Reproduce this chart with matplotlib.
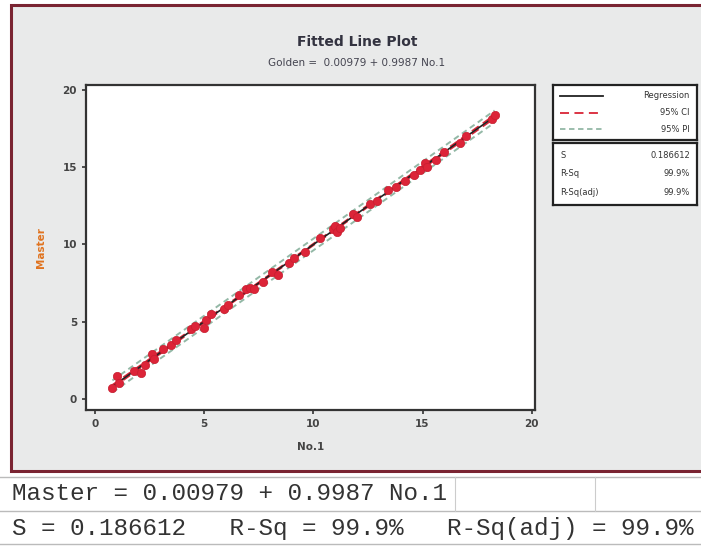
import numpy as np
import matplotlib.pyplot as plt
from matplotlib.patches import Rectangle
from matplotlib.lines import Line2D

# Fitted line plot
no1 = [0.8, 1.0, 1.1, 1.8, 2.1, 2.3, 2.6, 2.7, 3.1, 3.5, 3.7, 4.4, 4.6, 5.0, 5.1,
       5.3, 5.9, 6.1, 6.6, 6.9, 7.1, 7.3, 7.7, 8.1, 8.4, 8.9, 9.1, 9.6, 10.3, 10.9,
       11.0, 11.1, 11.2, 11.8, 12.0, 12.6, 12.9, 13.4, 13.8, 14.2, 14.6, 14.9, 15.1,
       15.2, 15.6, 16.0, 16.7, 17.0, 18.2, 18.3]
master = [0.7, 1.5, 1.0, 1.8, 1.7, 2.2, 2.9, 2.6, 3.2, 3.5, 3.8, 4.5, 4.7, 4.6, 5.1,
          5.5, 5.8, 6.1, 6.7, 7.1, 7.2, 7.1, 7.6, 8.2, 8.0, 8.8, 9.1, 9.5, 10.4, 11.0,
          11.2, 10.8, 11.1, 12.0, 11.8, 12.6, 12.8, 13.5, 13.7, 14.1, 14.5, 14.8, 15.3,
          15.0, 15.5, 16.0, 16.6, 17.0, 18.1, 18.4]

intercept = 0.00979
slope = 0.9987
s_val = 0.186612
rsq = '99.9%'
rsq_adj = '99.9%'

x_ticks = [0, 5, 10, 15, 20]
y_ticks = [0, 5, 10, 15, 20]

x = np.array(no1)
y = np.array(master)
n = len(x)

# bands for the fitted line
xs = np.linspace(x.min(), x.max(), 100)
fit = intercept + slope * xs
sxx = ((x - x.mean()) ** 2).sum()
t = 2.01
ci = t * s_val * np.sqrt(1 / n + (xs - x.mean()) ** 2 / sxx)
pi = t * s_val * np.sqrt(1 + 1 / n + (xs - x.mean()) ** 2 / sxx)

fig = plt.figure(figsize=(7.01, 5.46), dpi=100)
fig.patch.set_facecolor('white')

W, H = 701, 546

def fx(px):
    return px / W

def fy(py):
    return 1 - py / H

# grey panel with the dark red frame
bg = fig.add_axes([0, 0, 1, 1], zorder=-10)
bg.set_xlim(0, W)
bg.set_ylim(H, 0)
bg.axis('off')
bg.add_patch(Rectangle((11, 5), 720, 466, facecolor='#e9eaea',
                       edgecolor='#7a2432', linewidth=2.2))

ax = fig.add_axes([fx(86), fy(410), fx(535) - fx(86), fy(85) - fy(410)])
ax.set_facecolor('white')
ax.plot(xs, fit + pi, color='#93b8a6', lw=1.4, ls=(0, (3, 2)))
ax.plot(xs, fit - pi, color='#93b8a6', lw=1.4, ls=(0, (3, 2)))
ax.plot(xs, fit + ci, color='#d92436', lw=1.2, ls=(0, (5, 3)))
ax.plot(xs, fit - ci, color='#d92436', lw=1.2, ls=(0, (5, 3)))
ax.plot(xs, fit, color='#222222', lw=1.2)
ax.scatter(x, y, s=36, color='#dc2438', edgecolors='#c81e30', linewidths=0.5, zorder=5)

ax.set_xlim(-0.41, 20.15)
ax.set_ylim(-0.72, 20.33)
ax.set_xticks(x_ticks)
ax.set_yticks(y_ticks)
ax.tick_params(labelsize=7.5, length=3, width=1.2, colors='#333333', labelcolor='#444444')
for lab in ax.get_xticklabels() + ax.get_yticklabels():
    lab.set_fontweight('bold')
for sp in ax.spines.values():
    sp.set_linewidth(1.6)
    sp.set_color('#333333')
ax.set_xlabel('No.1', fontsize=7.5, fontweight='bold', color='#444444', labelpad=9)
ax.set_ylabel('Master', fontsize=7.5, fontweight='bold', color='#e0731f', labelpad=12)

fig.text(fx(357), fy(42), 'Fitted Line Plot', ha='center', va='center',
         fontsize=10, fontweight='bold', color='#333340')
fig.text(fx(357), fy(63), 'Golden =  0.00979 + 0.9987 No.1', ha='center', va='center',
         fontsize=7.5, color='#444450')

# legend box
leg = fig.add_axes([fx(553), fy(140), fx(697) - fx(553), fy(85) - fy(140)])
leg.set_xlim(0, 1)
leg.set_ylim(0, 1)
leg.set_xticks([])
leg.set_yticks([])
for sp in leg.spines.values():
    sp.set_linewidth(1.6)
    sp.set_color('#222222')
leg_items = [('Regression', '#222222', '-'), ('95% CI', '#d92436', (0, (5, 3))),
             ('95% PI', '#93b8a6', (0, (3, 2)))]
for i, (name, col, ls) in enumerate(leg_items):
    yy = 0.8 - i * 0.3
    leg.add_line(Line2D([0.05, 0.35], [yy, yy], color=col, ls=ls, lw=1.3))
    leg.text(0.95, yy, name, ha='right', va='center', fontsize=6, color='#333333')

# stats box
st = fig.add_axes([fx(553), fy(205), fx(697) - fx(553), fy(143) - fy(205)])
st.set_xlim(0, 1)
st.set_ylim(0, 1)
st.set_xticks([])
st.set_yticks([])
for sp in st.spines.values():
    sp.set_linewidth(1.6)
    sp.set_color('#222222')
stats = [('S', '%.6f' % s_val), ('R-Sq', rsq), ('R-Sq(adj)', rsq_adj)]
for i, (k, v) in enumerate(stats):
    yy = 0.8 - i * 0.3
    st.text(0.05, yy, k, ha='left', va='center', fontsize=6, color='#333333')
    st.text(0.95, yy, v, ha='right', va='center', fontsize=6, color='#333333')

# session output below the graph
for py in [477, 511, 544]:
    bg.add_line(Line2D([0, W], [py, py], color='#bbbbbb', lw=1.0))
for px in [455, 595]:
    bg.add_line(Line2D([px, px], [477, 511], color='#cccccc', lw=0.8))
fig.text(fx(12), fy(494), 'Master = %.5f + %.4f No.1' % (intercept, slope),
         family='Liberation Mono', fontsize=17.5, color='#333333', va='center')
fig.text(fx(12), fy(528), 'S = %.6f   R-Sq = %s   R-Sq(adj) = %s' % (s_val, rsq, rsq_adj),
         family='Liberation Mono', fontsize=17.5, color='#333333', va='center')

fig.savefig('out.png', dpi=100)
